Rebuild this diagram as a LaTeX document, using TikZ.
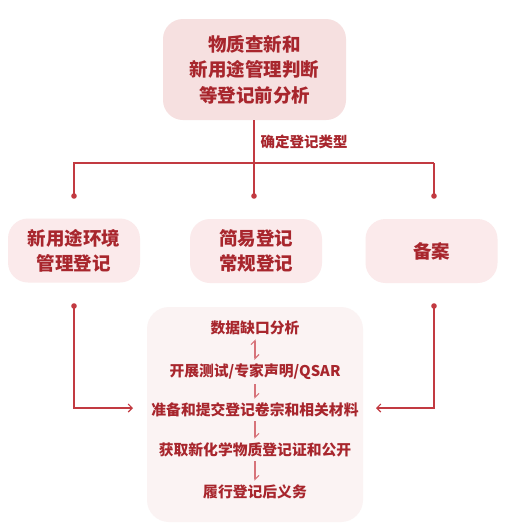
\documentclass[tikz,border=0pt]{standalone}
\usepackage{fontspec}
\newfontfamily\cjk{Noto Sans CJK SC}
\usetikzlibrary{arrows.meta}
\definecolor{txt}{HTML}{A8262D}
\definecolor{ln}{HTML}{C23A41}
\definecolor{hp}{HTML}{D7737A}
\definecolor{topfill}{HTML}{F6E0E0}
\definecolor{rowfill}{HTML}{FBEAEB}
\definecolor{panfill}{HTML}{FBF3F3}
\tikzset{
  topbox/.style={fill=topfill, rounded corners=20pt, minimum width=183pt, minimum height=101pt,
    align=center, text=txt, font=\cjk\bfseries\fontsize{18.5}{25.5}\selectfont},
  rowbox/.style={fill=rowfill, rounded corners=20pt, minimum width=132pt, minimum height=64pt,
    align=center, text=txt, font=\cjk\bfseries\fontsize{18.5}{25}\selectfont},
  panel/.style={fill=panfill, rounded corners=22pt, minimum width=216pt, minimum height=215pt},
  steptext/.style={text=txt, font=\cjk\bfseries\fontsize{14.8}{17}\selectfont, inner sep=1pt},
  lbl/.style={text=txt, font=\cjk\bfseries\fontsize{14.5}{17}\selectfont, inner sep=1pt},
  conn/.style={draw=ln, line width=1.2pt},
  arr/.style={conn, -{Straight Barb[length=4pt,width=8pt,line width=1.1pt]}},
  dotmark/.style={fill=ln},
  harp/.style={draw=hp, line width=1.2pt, -{Straight Barb[left,length=4pt,width=8pt,line width=1.1pt]}},
  dharp/.style={draw=hp, line width=1.2pt, {Straight Barb[left,length=4pt,width=8pt,line width=1.1pt]}-{Straight Barb[left,length=4pt,width=8pt,line width=1.1pt]}}
}
\begin{document}
\begin{tikzpicture}[x=1pt,y=-1pt]
\useasboundingbox (0,0) rectangle (508,531);
\fill[white] (0,0) rectangle (508,531);

% top box
\node[topbox] (top) at (254.5,69.5) {物质查新和\\新用途管理判断\\等登记前分析};
\node[lbl] (lab) at (304,142) {确定登记类型};

% row boxes
\node[rowbox] (b1) at (74,250.5) {新用途环境\\管理登记};
\node[rowbox] (b2) at (256,251) {简易登记\\常规登记};
\node[rowbox] (b3) at (431.5,251) {备案};

% bottom panel
\node[panel] (pan) at (255,414.5) {};
\node[steptext] (s1) at (255,328) {数据缺口分析};
\node[steptext] (s2) at (255,372) {开展测试/专家声明/QSAR};
\node[steptext] (s3) at (255,410) {准备和提交登记卷宗和相关材料};
\node[steptext] (s4) at (255,450) {获取新化学物质登记证和公开};
\node[steptext] (s5) at (255,492) {履行登记后义务};

% harpoons
\draw[dharp] ([yshift=-3pt]s1.south) -- ([yshift=3pt]s2.north);
\draw[harp] ([yshift=-3pt]s2.south) -- ([yshift=3pt]s3.north);
\draw[harp] ([yshift=-3pt]s3.south) -- ([yshift=3pt]s4.north);
\draw[harp] ([yshift=-3pt]s4.south) -- ([yshift=3pt]s5.north);

% branch connectors
\coordinate (jl) at (74,163);
\coordinate (jr) at (434,163);
\coordinate (dl) at (74,196);
\coordinate (dm) at (254,196);
\coordinate (dr) at (434,196);
\draw[conn] (top.south -| dm) -- (dm);
\draw[conn] (jr) -- (jl) -- (dl);
\draw[conn] (jr) -- (dr);
\fill[dotmark] (dl) circle (2.8pt);
\fill[dotmark] (dm) circle (2.8pt);
\fill[dotmark] (dr) circle (2.8pt);

% lower connectors
\coordinate (ls) at (74,306);
\coordinate (la) at (133,408);
\coordinate (rs) at (434,306);
\coordinate (ra) at (376,408);
\draw[arr] (ls) |- (la);
\draw[arr] (rs) |- (ra);
\fill[dotmark] (ls) circle (2.8pt);
\fill[dotmark] (rs) circle (2.8pt);
\end{tikzpicture}
\end{document}
